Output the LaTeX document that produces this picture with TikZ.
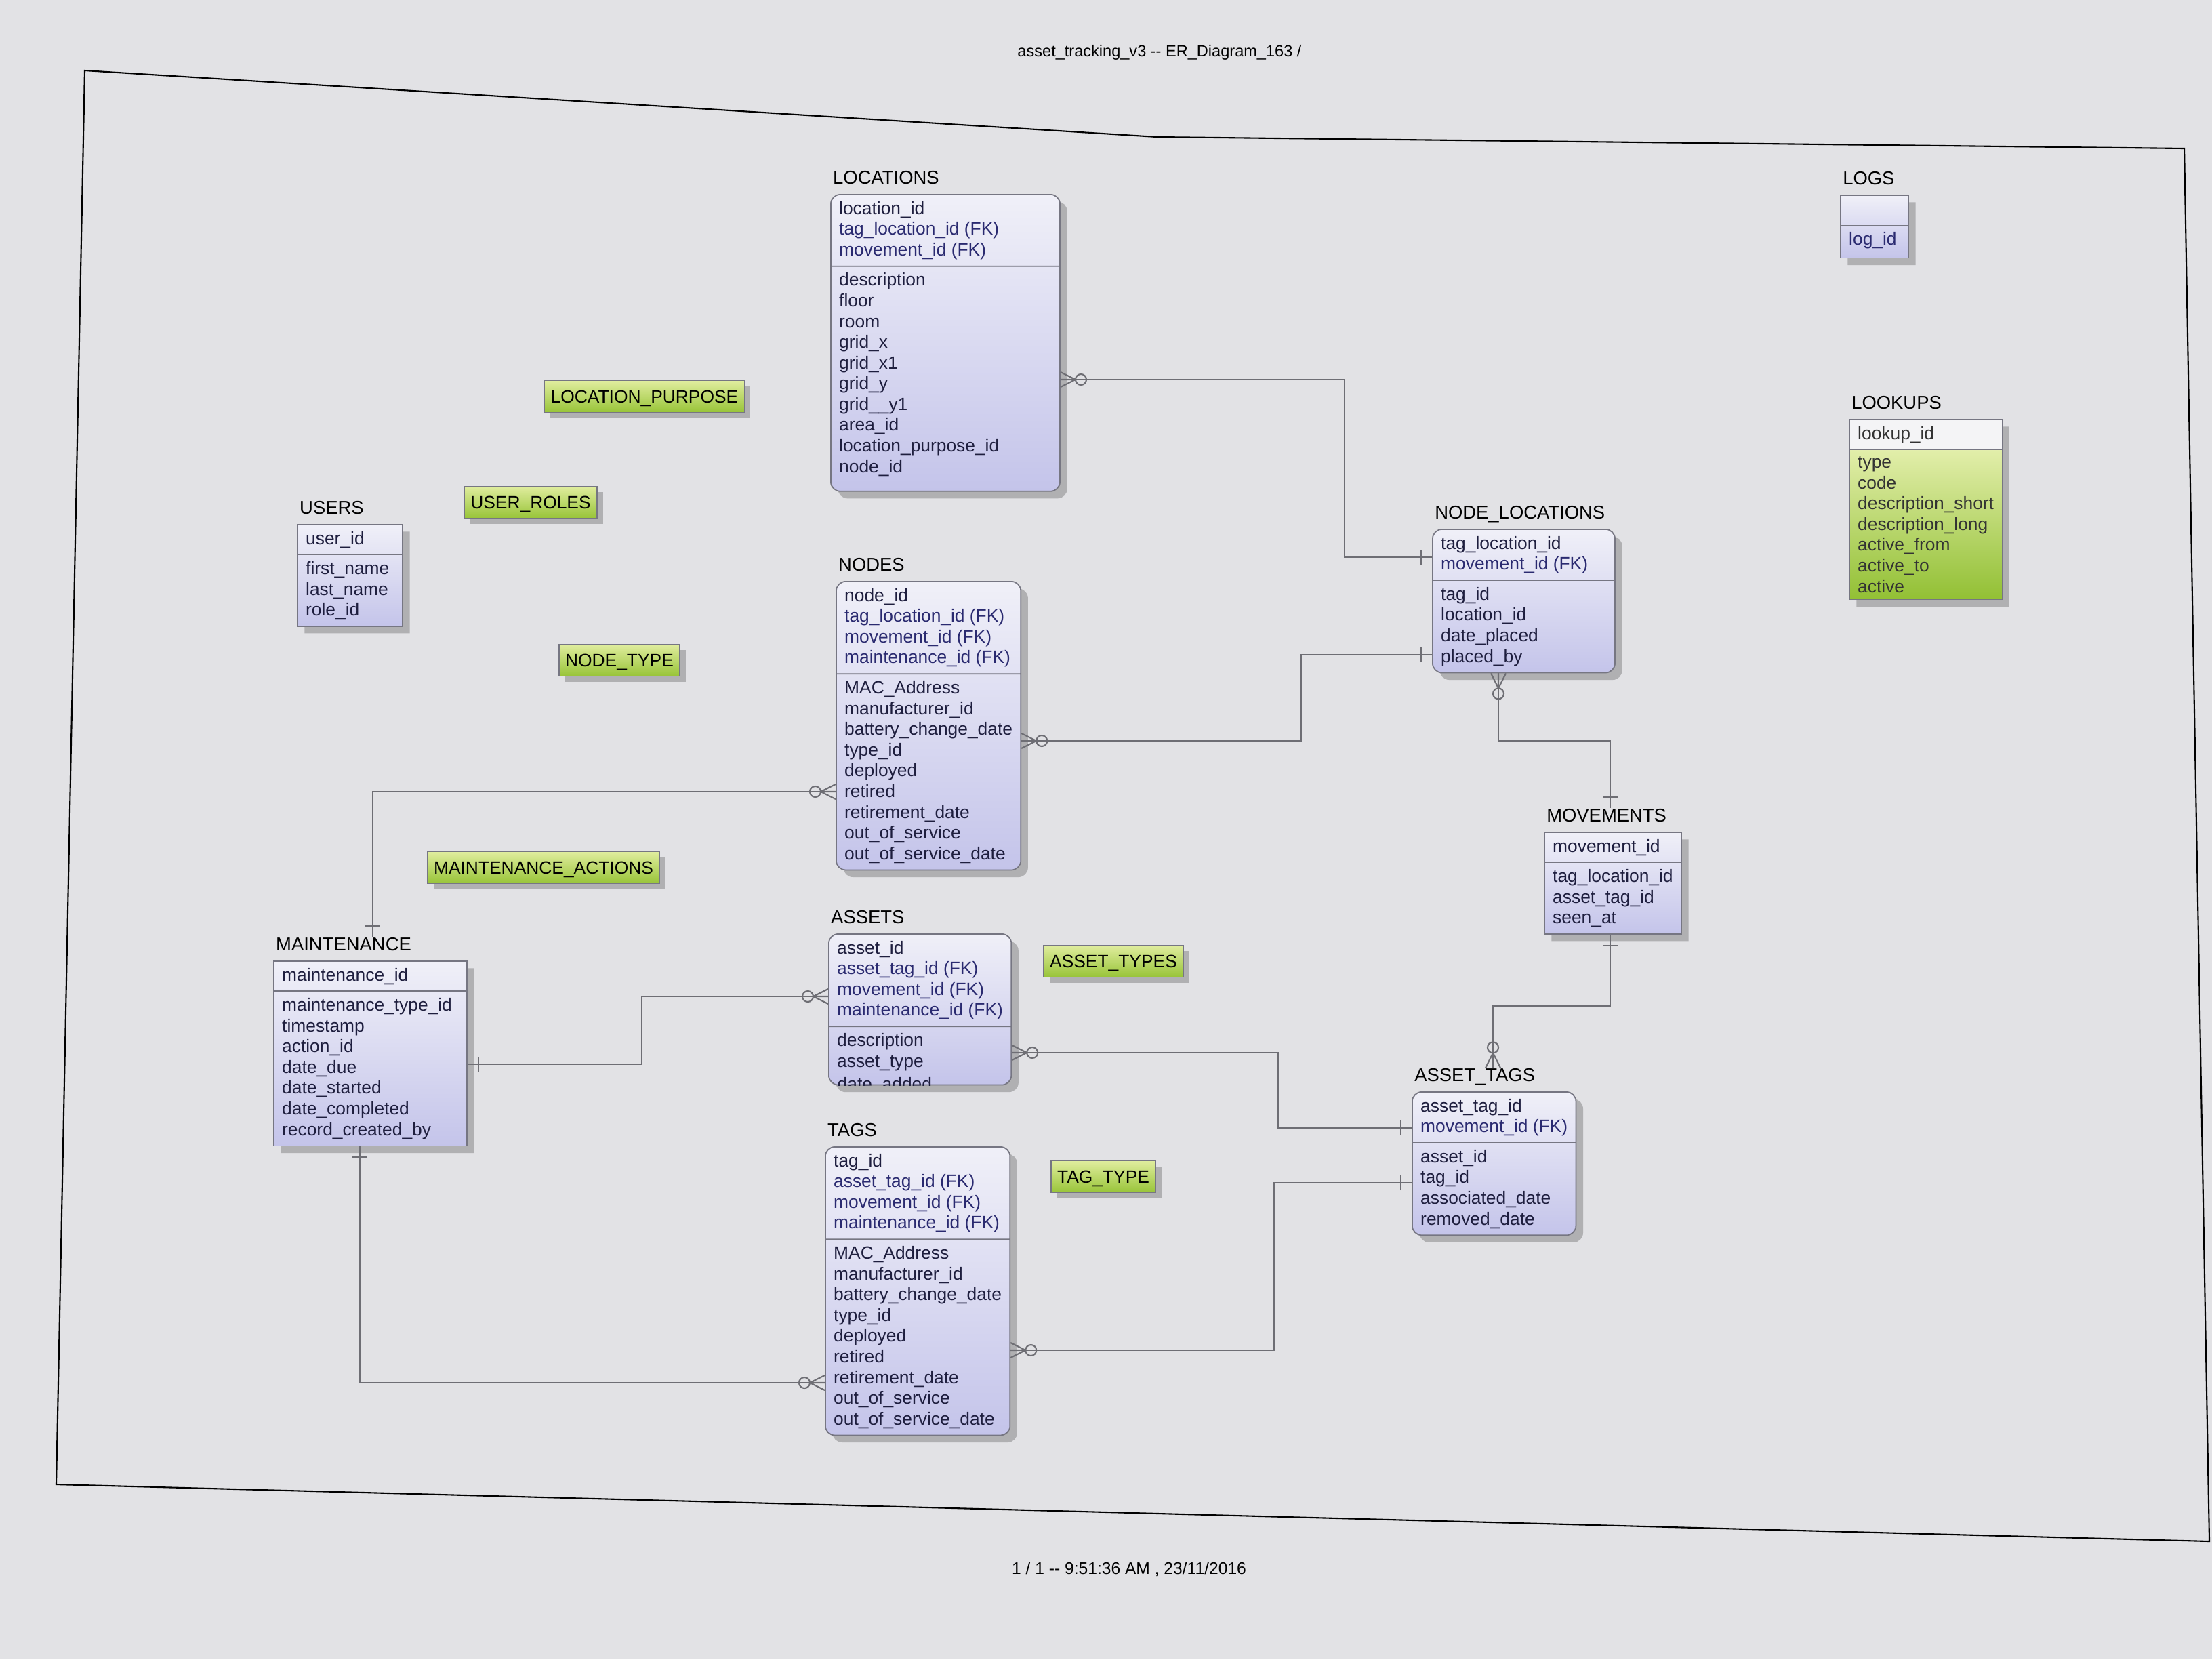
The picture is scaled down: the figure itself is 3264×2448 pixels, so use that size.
\documentclass[tikz,border=0pt]{standalone}
\usepackage{fontspec}
\setmainfont{Liberation Sans}
\usetikzlibrary{positioning, shapes.multipart, shadows}

\definecolor{paper}{RGB}{226,226,229}
\definecolor{boxline}{RGB}{118,118,130}
\definecolor{tabtop}{RGB}{240,240,248}
\definecolor{tabbot}{RGB}{196,196,234}
\definecolor{fieldtxt}{RGB}{30,30,62}
\definecolor{keytxt}{RGB}{42,42,112}
\definecolor{linkgray}{RGB}{110,110,116}
\definecolor{lbltop}{RGB}{224,237,158}
\definecolor{lblbot}{RGB}{152,196,56}
\definecolor{lkpwhite}{RGB}{244,244,246}
\definecolor{lkptop}{RGB}{226,238,170}
\definecolor{lkpbot}{RGB}{146,192,52}

% key part white, attribute part green
\pgfdeclareverticalshading{lookupshade}{100bp}{color(0bp)=(lkpbot); color(25bp)=(lkpbot);
  color(66.5bp)=(lkptop); color(66.7bp)=(lkpwhite); color(100bp)=(lkpwhite)}

\newcommand{\fk}[1]{\textcolor{keytxt}{#1}}

\tikzset{
  entbase/.style={rectangle split, rectangle split parts=2,
    rectangle split part align=left, align=left, anchor=north west,
    draw=boxline, line width=.5pt, text=fieldtxt, minimum width=#1,
    font=\fontsize{7.5}{8.7}\selectfont, inner xsep=3.5pt, inner ysep=2.6pt},
  entshadow/.style={drop shadow={shadow xshift=3pt, shadow yshift=-3pt, fill=black!60, opacity=.4}},
  entity/.style={entbase=#1, top color=tabtop, bottom color=tabbot, entshadow},
  roundentity/.style={entity=#1, rounded corners=4pt},
  lookupentity/.style={entbase=#1, shading=lookupshade, entshadow},
  tname/.style={font=\fontsize{7.8}{9}\selectfont, inner sep=0pt, text depth=0pt},
  lbl/.style={draw=boxline, line width=.4pt, top color=lbltop, bottom color=lblbot,
    font=\fontsize{7.5}{9}\selectfont, text depth=0pt, minimum height=.47cm,
    inner xsep=2.6pt,
    drop shadow={shadow xshift=2.5pt, shadow yshift=-2.5pt, fill=black!60, opacity=.4}},
  rel/.style={draw=linkgray, line width=.6pt},
  crowzero/.pic={
    \draw[rel] (0,-11) -- (22,0) -- (0,11) (0,0) -- (22,0);
    \draw[rel] (30,0) circle[radius=8];
  },
  onebar/.pic={\draw[rel] (16,-11) -- (16,11);}
}

\begin{document}
\begin{tikzpicture}[x=0.01cm, y=-0.01cm]
  \useasboundingbox (0,0) rectangle (3264,2448);
  \fill[paper] (0,0) rectangle (3264,2448);

  % page frame and print header / footer
  \draw[line width=.6pt] (125,104) -- (1707,202) -- (3223,219) -- (3260,2274) -- (83,2190) -- cycle;
  \node[font=\fontsize{6.7}{8}\selectfont] (head) at (1711,77) {asset\_tracking\_v3 -{}- ER\_Diagram\_163 /};
  \node[font=\fontsize{7}{8}\selectfont] (foot) at (1666,2315) {1 / 1 -{}- 9:51:36 AM , 23/11/2016};

  % tables
  \node[roundentity=3.38cm] (locations) at (1225,286)
    {location\_id\\\fk{tag\_location\_id (FK)}\\\fk{movement\_id (FK)}
     \nodepart{two} description\\floor\\room\\grid\_x\\grid\_x1\\grid\_y\\grid\_\_y1\\area\_id\\location\_purpose\_id\\node\_id\rule[-5pt]{0pt}{5pt}};
  \node[tname, above right=4pt and 1pt of locations.north west] (locations-t) {LOCATIONS};

  \node[roundentity=2.67cm] (nodes) at (1233,857)
    {node\_id\\\fk{tag\_location\_id (FK)}\\\fk{movement\_id (FK)}\\\fk{maintenance\_id (FK)}
     \nodepart{two} MAC\_Address\\manufacturer\_id\\battery\_change\_date\\type\_id\\deployed\\retired\\retirement\_date\\out\_of\_service\\out\_of\_service\_date};
  \node[tname, above right=4pt and 1pt of nodes.north west] (nodes-t) {NODES};

  \node[roundentity=2.55cm] (assets) at (1222,1377)
    {asset\_id\\\fk{asset\_tag\_id (FK)}\\\fk{movement\_id (FK)}\\\fk{maintenance\_id (FK)}
     \nodepart{two} description\\asset\_type\rule[-4.7pt]{0pt}{4.7pt}};
  \node[tname, above right=4pt and 1pt of assets.north west] (assets-t) {ASSETS};
  \begin{scope}
    \clip[rounded corners=4pt] (assets.north west) rectangle (assets.south east);
    \node[anchor=base west, inner sep=0pt, text=fieldtxt, font=\fontsize{7.5}{8.7}\selectfont]
      (dateadded) at ([xshift=3.7pt, yshift=-2pt]assets.south west) {date\_added};
  \end{scope}

  \node[roundentity=2.63cm] (tags) at (1217,1691)
    {tag\_id\\\fk{asset\_tag\_id (FK)}\\\fk{movement\_id (FK)}\\\fk{maintenance\_id (FK)}
     \nodepart{two} MAC\_Address\\manufacturer\_id\\battery\_change\_date\\type\_id\\deployed\\retired\\retirement\_date\\out\_of\_service\\out\_of\_service\_date};
  \node[tname, above right=4pt and 1pt of tags.north west] (tags-t) {TAGS};

  \node[entity=1.55cm] (users) at (438,773)
    {user\_id \nodepart{two} first\_name\\last\_name\\role\_id};
  \node[tname, above right=4pt and 1pt of users.north west] (users-t) {USERS};

  \node[entity=2.85cm] (maint) at (403,1417)
    {maintenance\_id
     \nodepart{two} maintenance\_type\_id\\timestamp\\action\_id\\date\_due\\date\_started\\date\_completed\\record\_created\_by};
  \node[tname, above right=4pt and 1pt of maint.north west] (maint-t) {MAINTENANCE};

  \node[roundentity=2.69cm] (nodelocs) at (2113,780)
    {tag\_location\_id\\\fk{movement\_id (FK)}
     \nodepart{two} tag\_id\\location\_id\\date\_placed\\placed\_by};
  \node[tname, above right=4pt and 1pt of nodelocs.north west] (nodelocs-t) {NODE\_LOCATIONS};

  \node[entity=1.87cm] (movements) at (2278,1227)
    {movement\_id \nodepart{two} tag\_location\_id\\asset\_tag\_id\\seen\_at};
  \node[tname, above right=4pt and 1pt of movements.north west] (movements-t) {MOVEMENTS};

  \node[roundentity=2.29cm] (assettags) at (2083,1610)
    {asset\_tag\_id\\\fk{movement\_id (FK)}
     \nodepart{two} asset\_id\\tag\_id\\associated\_date\\removed\_date};
  \node[tname, above right=4pt and 1pt of assettags.north west] (assettags-t) {ASSET\_TAGS};

  \node[entity=1.00cm] (logs) at (2715,287)
    {\phantom{log\_id}\rule[-1.5pt]{0pt}{1.5pt} \nodepart{two} \fk{log\_id}\rule[-2.5pt]{0pt}{2.5pt}};
  \node[tname, above right=4pt and 1pt of logs.north west] (logs-t) {LOGS};

  \node[lookupentity=2.17cm, text=black!80] (lookups) at (2728,618)
    {lookup\_id
     \nodepart{two} type\\code\\description\_short\\description\_long\\active\_from\\active\_to\\active};
  \node[tname, above right=4pt and 1pt of lookups.north west] (lookups-t) {LOOKUPS};

  % lookup tables without links
  \node[lbl] (locpurpose) at (951,585) {LOCATION\_PURPOSE};
  \node[lbl] (userroles) at (783,741) {USER\_ROLES};
  \node[lbl] (nodetype) at (914,974) {NODE\_TYPE};
  \node[lbl] (maintactions) at (802,1280) {MAINTENANCE\_ACTIONS};
  \node[lbl] (assettypes) at (1643,1418) {ASSET\_TYPES};
  \node[lbl] (tagtype) at (1628,1736) {TAG\_TYPE};

  % relationships
  \draw[rel] (locations.east |- 0,560) pic{crowzero} -| (1984,822)
    -- (nodelocs.west |- 0,822) pic[rotate=180]{onebar};
  \draw[rel] (nodes.east |- 0,1093) pic{crowzero} -| (1920,966)
    -- (nodelocs.west |- 0,966) pic[rotate=180]{onebar};
  \draw[rel] (2211,0 |- nodelocs.south) pic[rotate=-90]{crowzero} |- (2376,1093)
    -- (2376,0 |- movements-t.north) pic[rotate=90]{onebar};
  \draw[rel] (2376,0 |- movements.south) pic[rotate=-90]{onebar} |- (2203,1484)
    -- (2203,0 |- assettags-t.north) pic[rotate=90]{crowzero};
  \draw[rel] (nodes.west |- 0,1168) pic[rotate=180]{crowzero}
    -| (550,0 |- maint-t.north) pic[rotate=90]{onebar};
  \draw[rel] (assets.west |- 0,1470) pic[rotate=180]{crowzero} -| (947,1570)
    -- (maint.east |- 0,1570) pic{onebar};
  \draw[rel] (assets.east |- 0,1553) pic{crowzero} -| (1886,1664)
    -- (assettags.west |- 0,1664) pic[rotate=180]{onebar};
  \draw[rel] (tags.east |- 0,1992) pic{crowzero} -| (1880,1745)
    -- (assettags.west |- 0,1745) pic[rotate=180]{onebar};
  \draw[rel] (tags.west |- 0,2040) pic[rotate=180]{crowzero}
    -| (531,0 |- maint.south) pic[rotate=-90]{onebar};
\end{tikzpicture}
\end{document}
